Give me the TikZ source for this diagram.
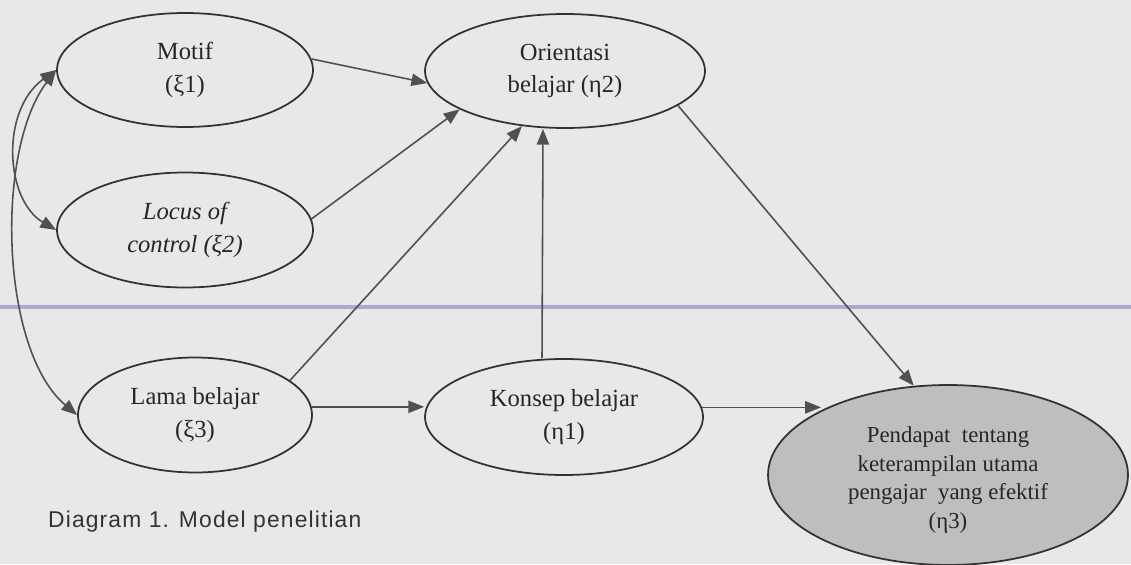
\documentclass[tikz,border=0pt]{standalone}
\usepackage{fontspec}
\setmainfont{Liberation Serif}
\newfontfamily\captionfont[LetterSpace=5]{Liberation Sans}
\usetikzlibrary{arrows.meta,shapes.geometric}

\definecolor{paper}{RGB}{232,232,232}
\definecolor{inkline}{RGB}{50,50,50}
\definecolor{linkgray}{RGB}{80,80,80}
\definecolor{shade}{RGB}{190,190,190}
\definecolor{scanrule}{RGB}{172,168,212}

\tikzset{
  var/.style={ellipse, draw=inkline, line width=1pt, inner sep=0pt, align=center,
    text=black!85, font=\fontsize{14}{18.5}\selectfont},
  link/.style={draw=linkgray, line width=0.9pt, -{Triangle[length=9pt,width=7pt]}},
  corr/.style={link, {Triangle[length=9pt,width=7pt]}-{Triangle[length=9pt,width=7pt]}}
}

\begin{document}
\begin{tikzpicture}[x=0.02cm,y=-0.02cm]

\fill[paper] (0,0) rectangle (1131,564);
\useasboundingbox (0,0) rectangle (1131,564);
\draw[scanrule, line width=2pt] (0,307) -- (1131,307);

\node[var, minimum width=5.12cm, minimum height=2.28cm] (motif) at (185,70) {Motif\\(ξ1)};
\node[var, minimum width=5.12cm, minimum height=2.3cm] (locus) at (185,230) {\itshape Locus of\\\itshape control (ξ2)};
\node[var, minimum width=4.68cm, minimum height=2.3cm] (lama) at (195,415) {Lama belajar\\(ξ3)};
\node[var, minimum width=5.6cm, minimum height=2.28cm] (orient) at (565,71) {Orientasi\\belajar (η2)};
\node[var, minimum width=5.56cm, minimum height=2.32cm] (konsep) at (564,417) {Konsep belajar\\(η1)};
\node[var, fill=shade, minimum width=7.2cm, minimum height=3.6cm,
  label={[align=center, text=black!85, font=\fontsize{13}{16.3}\selectfont, yshift=-0.1cm]center:Pendapat\ \ tentang\\keterampilan utama\\pengajar\ \ yang efektif\\(η3)}]
  (pend) at (948,475) {};

\draw[link] (motif.5) -- (orient.185);
\draw[link] (locus.5) -- (orient.200);
\draw[link] (lama.20) -- (orient.232);
\draw[link] ([xshift=-0.44cm]konsep.north) -- ([xshift=-0.44cm]orient.south);
\draw[link] (orient.-17) -- (pend.111);
\draw[link] (lama.4) -- (lama.4 -| konsep.west);
\draw[link] (konsep.4) -- (konsep.4 -| pend.153);

\draw[corr] (locus.west) .. controls (5,200) and (0,110) .. (motif.west);
\draw[corr] (lama.west) .. controls (0,350) and (-5,150) .. (motif.west);

\node[anchor=base west, text=black!80, font=\captionfont\fontsize{13}{15}\selectfont] (caption) at (42,527) {Diagram 1. Model penelitian};

\end{tikzpicture}
\end{document}
